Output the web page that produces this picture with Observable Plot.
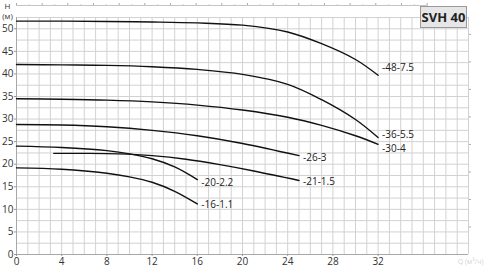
<!DOCTYPE html>
<html>
<head>
<meta charset="utf-8">
<script src="https://cdn.jsdelivr.net/npm/d3@7"></script>
<script src="https://cdn.jsdelivr.net/npm/@observablehq/plot@0.6"></script>
<style>
  body { margin: 0; background: #fff; }
  #wrap { position: relative; width: 485px; height: 267px; }
  #badge { position: absolute; left: 420px; top: 6px; width: 47px; height: 22px;
    background: #e6e6e6; border: 1px solid #9a9a9a; box-sizing: border-box;
    font: bold 13px "Open Sans", sans-serif; color: #222; text-align: center; line-height: 20px; }
</style>
</head>
<body>
<div id="wrap"><div id="badge">SVH 40</div></div>
<script>
// Curve names (pump model labels)
const names = ["-48-7.5", "-36-5.5", "-30-4", "-26-3", "-21-1.5", "-20-2.2", "-16-1.1"];
// Flow Q (m³/h) and head H (m) per curve
const q48 = [0, 4, 8, 12, 16, 20, 24, 27, 30, 32];
const h48 = [51.7, 51.7, 51.6, 51.5, 51.3, 50.8, 49.3, 46.7, 43.2, 39.7];
const q36 = [0, 4, 8, 12, 16, 20, 24, 27, 30, 32];
const h36 = [42.1, 42.0, 41.9, 41.6, 41.0, 39.9, 37.7, 34.3, 29.9, 25.9];
const q30 = [0, 4, 8, 12, 16, 20, 24, 27, 30, 32];
const h30 = [34.5, 34.4, 34.2, 33.8, 33.1, 32.0, 30.4, 28.6, 26.3, 24.4];
const q26 = [0, 4, 8, 12, 16, 20, 25];
const h26 = [28.8, 28.7, 28.3, 27.5, 26.3, 24.6, 21.9];
const q21 = [3.3, 6, 9, 12, 15, 18, 21, 25];
const h21 = [22.4, 22.4, 22.3, 21.9, 21.1, 19.9, 18.5, 16.4];
const q20 = [0, 4, 8, 10, 12, 14, 16];
const h20 = [24.0, 23.7, 23.0, 22.3, 21.2, 19.4, 16.6];
const q16 = [0, 4, 8, 10, 12, 14, 16];
const h16 = [19.2, 18.9, 18.0, 17.2, 16.0, 14.0, 11.2];
// Axis ticks
const xTicks = [0, 4, 8, 12, 16, 20, 24, 28, 32];
const yTicks = [0, 5, 10, 15, 20, 25, 30, 35, 40, 45, 50];
const gpmMajor = [0, 10, 20, 30, 40, 50, 60, 70, 80, 90, 100, 110, 120, 130, 140, 150, 160];
const gpmMinor = [5, 15, 25, 35, 45, 55, 65, 75, 85, 95, 105, 115, 125, 135, 145, 155];
const ftTicks = [20, 40, 60, 80, 100, 120, 140, 160];

const GPM = 0.2271, FT = 0.3048;
const Qs = [q48, q36, q30, q26, q21, q20, q16];
const Hs = [h48, h36, h30, h26, h21, h20, h16];
const rows = [];
names.forEach((n, i) => Qs[i].forEach((q, j) => rows.push({name: n, q, h: Hs[i][j]})));
const ends = names.map((n, i) => ({name: n, q: Qs[i][Qs[i].length - 1], h: Hs[i][Hs[i].length - 1]}));
const labelDy = {"-48-7.5": -7, "-36-5.5": -2.5, "-30-4": 4, "-26-3": 2, "-21-1.5": 1, "-20-2.2": 3, "-16-1.1": 1};

const gridX = d3.range(0, 41, 1);
const gridY = d3.range(0, 52.6, 2.5);

const chart = Plot.plot({
  width: 485, height: 267,
  marginLeft: 16, marginRight: 17, marginTop: 17, marginBottom: 13,
  style: {fontFamily: "'Open Sans', sans-serif", fontSize: "10px", color: "#333", background: "#fff"},
  x: {domain: [0, 40]},
  y: {domain: [0, 52.5]},
  marks: [
    Plot.ruleX(gridX, {stroke: "#d2d2d2", strokeWidth: 1}),
    Plot.ruleY(gridY, {stroke: "#d2d2d2", strokeWidth: 1}),
    Plot.ruleX([0], {stroke: "#a8a8a8"}),
    Plot.ruleY([0], {stroke: "#a8a8a8"}),
    Plot.axisX({ticks: xTicks, tickSize: 2, tickPadding: 1, stroke: "#999", fill: "#333", label: null, fontSize: 10}),
    Plot.axisY({ticks: yTicks, tickSize: 2, tickPadding: 1, stroke: "#999", fill: "#333", label: null, fontSize: 10}),
    Plot.axisX({anchor: "top", ticks: gpmMajor.map(d => d * GPM), tickSize: 3, tickFormat: () => "", dy: -12, stroke: "#aaa", label: null}),
    Plot.axisX({anchor: "top", ticks: gpmMinor.map(d => d * GPM), tickSize: 1.5, tickFormat: () => "", dy: -12, stroke: "#aaa", label: null}),
    Plot.ruleY([52.5], {x1: 0, x2: 160 * GPM, dy: -12, stroke: "#c4c4c4"}),
    Plot.axisY({anchor: "right", ticks: ftTicks.map(d => d * FT), tickSize: 2, tickFormat: () => "", stroke: "#aaa", label: null}),
    Plot.line(rows, {x: "q", y: "h", z: "name", stroke: "#111", strokeWidth: 1.4, curve: "catmull-rom"}),
    ...names.map(n => Plot.text(ends.filter(d => d.name === n), {x: "q", y: "h", text: "name",
      textAnchor: "start", dx: 4, dy: labelDy[n], fill: "#222", fontSize: 10})),
    Plot.text(["H\n(м)"], {frameAnchor: "top-left", dx: -9, dy: -16, fill: "#333", fontSize: 8,
      textAnchor: "middle", lineAnchor: "top", lineHeight: 1.3}),
    Plot.text(["Q (м³/ч)"], {frameAnchor: "bottom-right", dx: 15, dy: 9, fill: "#d4d4d4", fontSize: 7, textAnchor: "end"})
  ]
});
document.getElementById("wrap").prepend(chart);
</script>
</body>
</html>
